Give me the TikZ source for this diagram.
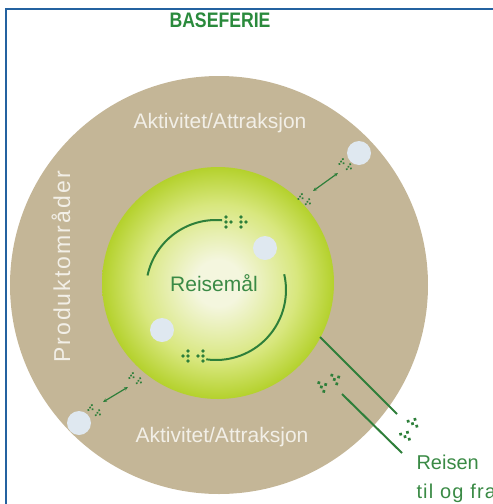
\documentclass[tikz,border=0pt]{standalone}
\usepackage{fontspec}
\setmainfont{Liberation Sans}
\usetikzlibrary{arrows.meta}
\definecolor{sand}{HTML}{C4B697}
\definecolor{lime}{HTML}{B4D12C}
\definecolor{glowmid}{HTML}{D8E77E}
\definecolor{glowwhite}{HTML}{F4F6DE}
\definecolor{paleblue}{HTML}{DFE8F0}
\definecolor{leafgreen}{HTML}{2E7F3A}
\definecolor{labelgreen}{HTML}{3A8A45}
\definecolor{titlegreen}{HTML}{2A8A3C}
\definecolor{paletext}{HTML}{F2EFE7}
\definecolor{frameblue}{HTML}{2462A0}
\pgfdeclareradialshading{limeglow}{\pgfpoint{0bp}{0bp}}{color(0bp)=(glowwhite); color(5bp)=(glowwhite); color(17bp)=(glowmid); color(25bp)=(lime); color(50bp)=(lime)}
\newcommand{\dotpair}[4]{%
  \begin{scope}[shift={#1},rotate=#2]
  \foreach \dx/\dy in {-2/-1,-2/0,-1/0,-2/1,1/-1,1/0,2/0,1/1}{%
    \fill[leafgreen] (#3*\dx,#3*\dy) circle[radius=#4];
  }
  \end{scope}}

\begin{document}
\begin{tikzpicture}[x=1pt,y=-1pt,line width=1pt,
  ringtext/.style={text=paletext,font=\fontsize{21}{21}\selectfont},
  greentext/.style={text=labelgreen,font=\fontsize{20}{20}\selectfont},
  leafline/.style={draw=leafgreen,line width=2pt},
  twoway/.style={draw=leafgreen,line width=1.2pt,{Stealth[length=4pt,width=3.5pt]}-{Stealth[length=4pt,width=3.5pt]}}]
 \useasboundingbox (0,0) rectangle (493,504);
 \draw[frameblue,line width=2.2pt] (6,9) rectangle (540,560);
 \fill[sand] (219,285) circle[radius=209];
 \shade[shading=limeglow] (218,283) circle[radius=116];
 \foreach \cx/\cy in {359/153,265/248,162/330,79/423}{%
   \fill[paleblue] (\cx,\cy) circle[radius=12];
 }
 \node[font=\bfseries\fontsize{21}{21}\selectfont,text=titlegreen,xscale=.84] (title) at (220,20) {BASEFERIE};
 \node[ringtext] (topact) at (220,123) {Aktivitet/Attraksjon};
 \node[ringtext] (botact) at (222,437) {Aktivitet/Attraksjon};
 \node[ringtext,rotate=90,font=\fontsize{23}{23}\selectfont\addfontfeature{LetterSpace=9}] (prod) at (61,267) {Produktområder};
 \node[greentext,font=\fontsize{21}{21}\selectfont] (dest) at (214,283) {Reisemål};
 \node[greentext,anchor=west,inner sep=0pt] (trip) at (416,462) {Reisen};
 \node[greentext,anchor=west,inner sep=0pt,font=\fontsize{20}{20}\selectfont\addfontfeature{LetterSpace=6}] (tripback) at (416,493) {til og fra};
 \coordinate (swirl) at (216,290);
 \draw[leafline] (swirl) ++(192:70) arc[start angle=192,end angle=275,radius=70];
 \draw[leafline] (swirl) ++(-13:70) arc[start angle=-13,end angle=98,radius=70];
 \dotpair{(236,222)}{0}{5}{1.9}
 \dotpair{(193,356)}{180}{5}{1.9}
 \coordinate (tr-a) at (313,191);
 \coordinate (tr-b) at (338,173);
 \coordinate (bl-a) at (103,402);
 \coordinate (bl-b) at (128,387);
 \draw[twoway] (tr-a) -- (tr-b);
 \draw[twoway] (bl-a) -- (bl-b);
 \dotpair{(305,200)}{-35}{3}{1.2}
 \dotpair{(346,165)}{-35}{3}{1.2}
 \dotpair{(95,411)}{-35}{3}{1.2}
 \dotpair{(136,379)}{-35}{3}{1.2}
 \coordinate (ballrim) at (320,337);
 \coordinate (rimdots) at (397,414);
 \coordinate (tripdots) at (342,394);
 \coordinate (tripfoot) at (402,453);
 \draw[leafline] (ballrim) -- (rimdots);
 \draw[leafline] (tripdots) -- (tripfoot);
 \dotpair{(330,382)}{30}{5}{1.9}
 \dotpair{(410,428)}{60}{5}{1.9}
\end{tikzpicture}
\end{document}
